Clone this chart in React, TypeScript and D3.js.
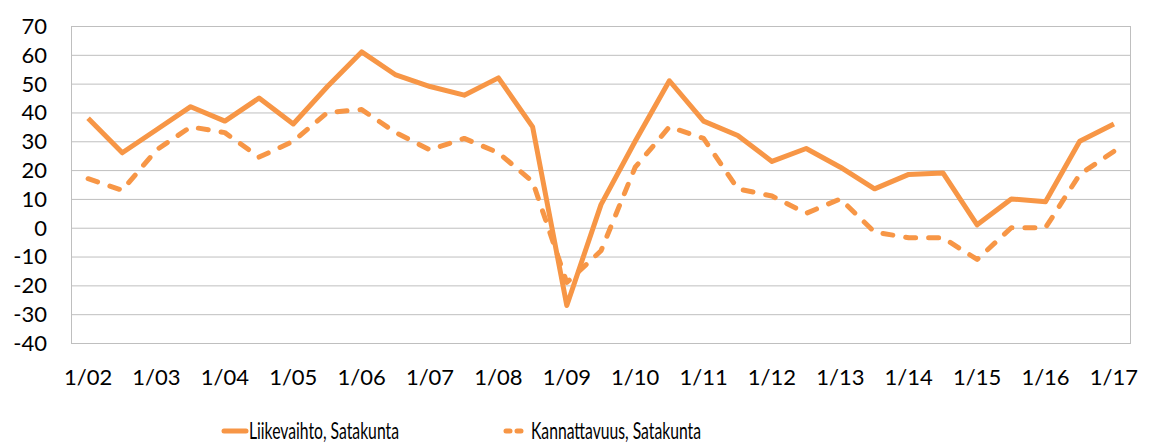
import { useEffect, useRef } from "react";
import * as d3 from "d3";

// half-year periods, label shown at every January
const periods = [
  "1/02", "7/02", "1/03", "7/03", "1/04", "7/04", "1/05", "7/05", "1/06", "7/06",
  "1/07", "7/07", "1/08", "7/08", "1/09", "7/09", "1/10", "7/10", "1/11", "7/11",
  "1/12", "7/12", "1/13", "7/13", "1/14", "7/14", "1/15", "7/15", "1/16", "7/16", "1/17",
];
const liikevaihto = [
  38, 26, 34, 42, 37, 45, 36, 49, 61, 53,
  49, 46, 52, 35, -27, 8, 30, 51, 37, 32,
  23, 27.5, 21, 13.5, 18.5, 19, 1, 10, 9, 30, 36,
];
const kannattavuus = [
  17, 13, 27, 35, 33, 24.5, 30, 40, 41, 33,
  27, 31, 26, 16, -19, -8, 21, 35, 31, 13.5,
  11, 5, 10, -1.5, -3.5, -3.5, -11, 0, 0, 18.5, 26.5,
];
const yTicks = [-40, -30, -20, -10, 0, 10, 20, 30, 40, 50, 60, 70];
const seriesNames = ["Liikevaihto, Satakunta", "Kannattavuus, Satakunta"];

const W = 1151;
const H = 443;
const ORANGE = "#f79646";
const FONT = "Lato, 'Open Sans', sans-serif";

export default function App() {
  const svgRef = useRef<SVGSVGElement>(null);

  useEffect(() => {
    const svg = d3.select(svgRef.current);
    svg.selectAll("*").remove();

    const margin = { top: 26, right: 20, bottom: 100, left: 71 };
    const width = W - margin.left - margin.right;
    const height = H - margin.top - margin.bottom;

    const g = svg.append("g").attr("transform", `translate(${margin.left},${margin.top})`);

    const x = d3.scaleBand().domain(periods).range([0, width]);
    const y = d3.scaleLinear().domain([-40, 70]).range([height, 0]);

    // gridlines
    g.selectAll(".grid")
      .data(yTicks)
      .join("line")
      .attr("class", "grid")
      .attr("x1", 0)
      .attr("x2", width)
      .attr("y1", d => y(d) + 0.5)
      .attr("y2", d => y(d) + 0.5)
      .attr("stroke", "#bfbfbf")
      .attr("stroke-width", 1);

    g.append("line")
      .attr("x1", 0.5).attr("x2", 0.5)
      .attr("y1", 0).attr("y2", height)
      .attr("stroke", "#bfbfbf");
    g.append("line")
      .attr("x1", width - 0.5).attr("x2", width - 0.5)
      .attr("y1", 0).attr("y2", height)
      .attr("stroke", "#bfbfbf");

    // y labels
    g.selectAll(".ylab")
      .data(yTicks)
      .join("text")
      .attr("class", "ylab")
      .attr("x", -24)
      .attr("y", d => y(d))
      .attr("dy", "0.36em")
      .attr("text-anchor", "end")
      .attr("font-family", FONT)
      .attr("font-size", 22)
      .attr("fill", "#000")
      .text(d => d);

    // x labels
    g.selectAll(".xlab")
      .data(periods.filter(p => p.startsWith("1/")))
      .join("text")
      .attr("class", "xlab")
      .attr("x", d => x(d)! + x.bandwidth() / 2)
      .attr("y", height + 42)
      .attr("text-anchor", "middle")
      .attr("font-family", FONT)
      .attr("font-size", 22)
      .attr("fill", "#000")
      .text(d => d);

    const line = d3.line<number>()
      .x((d, i) => x(periods[i])! + x.bandwidth() / 2)
      .y(d => y(d));

    g.append("path")
      .datum(kannattavuus)
      .attr("d", line)
      .attr("fill", "none")
      .attr("stroke", ORANGE)
      .attr("stroke-width", 5)
      .attr("stroke-dasharray", "10,13")
      .attr("stroke-linecap", "round")
      .attr("stroke-linejoin", "round");

    g.append("path")
      .datum(liikevaihto)
      .attr("d", line)
      .attr("fill", "none")
      .attr("stroke", ORANGE)
      .attr("stroke-width", 5)
      .attr("stroke-linejoin", "round");

    // legend
    const legend = [
      { name: seriesNames[0], x: 224, dash: null, len: 150 },
      { name: seriesNames[1], x: 506, dash: "4,7", len: 170 },
    ];
    const lg = svg.selectAll(".legend")
      .data(legend)
      .join("g")
      .attr("class", "legend")
      .attr("transform", d => `translate(${d.x},431)`);
    lg.append("line")
      .attr("x1", 0).attr("x2", 22)
      .attr("y1", 0).attr("y2", 0)
      .attr("stroke", ORANGE)
      .attr("stroke-width", 5)
      .attr("stroke-linecap", "round")
      .attr("stroke-dasharray", d => d.dash);
    lg.append("text")
      .attr("x", 25)
      .attr("y", 8)
      .attr("font-family", FONT)
      .attr("font-size", 24)
      .attr("textLength", d => d.len)
      .attr("lengthAdjust", "spacingAndGlyphs")
      .attr("fill", "#000")
      .text(d => d.name);
  }, []);

  return (
    <svg
      ref={svgRef}
      width={W}
      height={H}
      style={{ position: "absolute", left: 0, top: 0, background: "#fff" }}
    />
  );
}
